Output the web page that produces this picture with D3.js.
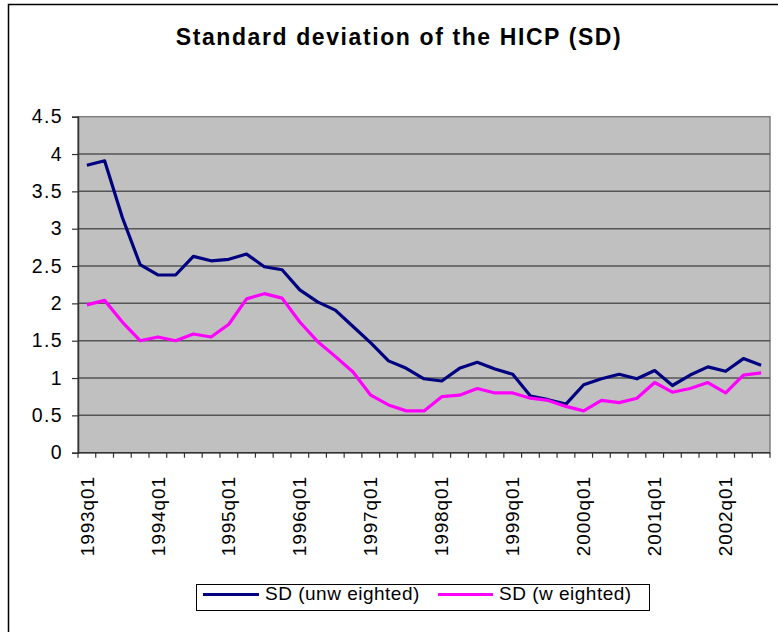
<!DOCTYPE html>
<html>
<head>
<meta charset="utf-8">
<script src="https://cdn.jsdelivr.net/npm/d3@7/dist/d3.min.js"></script>
<style>
  html, body { margin: 0; padding: 0; background: #fff; }
  svg { display: block; font-family: Arial, "Liberation Sans", sans-serif; }
</style>
</head>
<body>
<svg id="chart" width="778" height="632"></svg>
<script>
const quarters = [
  "1993q01","1993q02","1993q03","1993q04",
  "1994q01","1994q02","1994q03","1994q04",
  "1995q01","1995q02","1995q03","1995q04",
  "1996q01","1996q02","1996q03","1996q04",
  "1997q01","1997q02","1997q03","1997q04",
  "1998q01","1998q02","1998q03","1998q04",
  "1999q01","1999q02","1999q03","1999q04",
  "2000q01","2000q02","2000q03","2000q04",
  "2001q01","2001q02","2001q03","2001q04",
  "2002q01","2002q02","2002q03"
];
const sdUnweighted = [
  3.85, 3.91, 3.15, 2.52, 2.38, 2.38, 2.63, 2.57, 2.59, 2.66,
  2.49, 2.45, 2.18, 2.02, 1.91, 1.69, 1.47, 1.23, 1.13, 0.99,
  0.96, 1.13, 1.21, 1.12, 1.05, 0.76, 0.71, 0.65, 0.91, 0.99,
  1.05, 0.99, 1.10, 0.90, 1.04, 1.15, 1.09, 1.26, 1.17
];
const sdWeighted = [
  1.98, 2.04, 1.75, 1.50, 1.55, 1.50, 1.59, 1.55, 1.72, 2.06,
  2.13, 2.07, 1.75, 1.49, 1.29, 1.08, 0.77, 0.64, 0.56, 0.56,
  0.75, 0.77, 0.86, 0.80, 0.80, 0.73, 0.70, 0.62, 0.56, 0.70,
  0.67, 0.73, 0.94, 0.81, 0.86, 0.94, 0.80, 1.04, 1.07
];
const yTicks = [0, 0.5, 1, 1.5, 2, 2.5, 3, 3.5, 4, 4.5];
const labelQuarters = ["1993q01","1994q01","1995q01","1996q01","1997q01","1998q01","1999q01","2000q01","2001q01","2002q01"];
const seriesNames = ["SD (unw eighted)", "SD (w eighted)"];
const seriesColors = ["#000080", "#FF00FF"];
const titleText = "Standard deviation of the HICP (SD)";

const svg = d3.select("#chart");
const plot = { left: 78, right: 770, top: 116.7, bottom: 452.7 };

// outer chart border
svg.append("rect")
  .attr("x", 8.5).attr("y", 4.5)
  .attr("width", 800).attr("height", 700)
  .attr("fill", "#fff").attr("stroke", "#000").attr("stroke-width", 1.5);

// title
svg.append("text")
  .attr("x", 399).attr("y", 45)
  .attr("text-anchor", "middle")
  .attr("font-size", "23px").attr("font-weight", "bold")
  .attr("letter-spacing", "1.6px")
  .attr("fill", "#000")
  .text(titleText);

const x = d3.scaleBand().domain(quarters).range([plot.left, plot.right]).paddingInner(0).paddingOuter(0);
const y = d3.scaleLinear().domain([0, 4.5]).range([plot.bottom, plot.top]);

// plot background
svg.append("rect")
  .attr("x", plot.left).attr("y", plot.top)
  .attr("width", plot.right - plot.left).attr("height", plot.bottom - plot.top)
  .attr("fill", "#C0C0C0").attr("stroke", "#808080").attr("stroke-width", 1.5);

// gridlines
svg.append("g").selectAll("line")
  .data(yTicks.filter(d => d > 0 && d < 4.5))
  .join("line")
  .attr("x1", plot.left).attr("x2", plot.right)
  .attr("y1", d => y(d)).attr("y2", d => y(d))
  .attr("stroke", "#555").attr("stroke-width", 1.5);

// y axis
const yAxis = d3.axisLeft(y).tickValues(yTicks).tickSize(6).tickPadding(9)
  .tickFormat(d => String(d));
const gy = svg.append("g").attr("transform", `translate(${plot.left},0)`).call(yAxis);
gy.select(".domain").attr("stroke", "#333").attr("stroke-width", 1.5);
gy.selectAll(".tick line").attr("stroke", "#333").attr("stroke-width", 1.2);
gy.selectAll(".tick text").attr("font-size", "19.5px").attr("fill", "#000")
  .attr("letter-spacing", "1.4px")
  .attr("font-family", "Arial, 'Liberation Sans', sans-serif");

// x axis ticks between categories
const xTickPositions = quarters.map(q => x(q)).concat([plot.right]);
svg.append("line")
  .attr("x1", plot.left).attr("x2", plot.right)
  .attr("y1", plot.bottom).attr("y2", plot.bottom)
  .attr("stroke", "#333").attr("stroke-width", 1.5);
svg.append("g").selectAll("line")
  .data(xTickPositions)
  .join("line")
  .attr("x1", d => d).attr("x2", d => d)
  .attr("y1", plot.bottom).attr("y2", plot.bottom + 5)
  .attr("stroke", "#333").attr("stroke-width", 1.2);

// x labels
svg.append("g").selectAll("text")
  .data(labelQuarters)
  .join("text")
  .attr("transform", d => `translate(${x(d) + x.bandwidth() / 2},476) rotate(-90)`)
  .attr("text-anchor", "end")
  .attr("dy", "0.35em")
  .attr("font-size", "19px")
  .attr("letter-spacing", "0.9px")
  .attr("fill", "#000")
  .text(d => d);

// lines
const lineGen = d3.line()
  .x((d, i) => x(quarters[i]) + x.bandwidth() / 2)
  .y(d => y(d));
[sdUnweighted, sdWeighted].forEach((s, k) => {
  svg.append("path")
    .datum(s)
    .attr("d", lineGen)
    .attr("fill", "none")
    .attr("stroke", seriesColors[k])
    .attr("stroke-width", 3.2)
    .attr("stroke-linejoin", "round");
});

// legend
const lg = svg.append("g");
lg.append("rect")
  .attr("x", 196.5).attr("y", 584.5).attr("width", 453).attr("height", 26)
  .attr("fill", "#fff").attr("stroke", "#000").attr("stroke-width", 1);
const legendItems = [
  { x1: 203, x2: 259, tx: 265 },
  { x1: 438, x2: 493, tx: 499 }
];
legendItems.forEach((it, k) => {
  lg.append("line")
    .attr("x1", it.x1).attr("x2", it.x2)
    .attr("y1", 594.5).attr("y2", 594.5)
    .attr("stroke", seriesColors[k]).attr("stroke-width", 3.2);
  lg.append("text")
    .attr("x", it.tx).attr("y", 600)
    .attr("font-size", "19px").attr("fill", "#000")
    .attr("letter-spacing", "0.5px")
    .text(seriesNames[k]);
});
</script>
</body>
</html>
